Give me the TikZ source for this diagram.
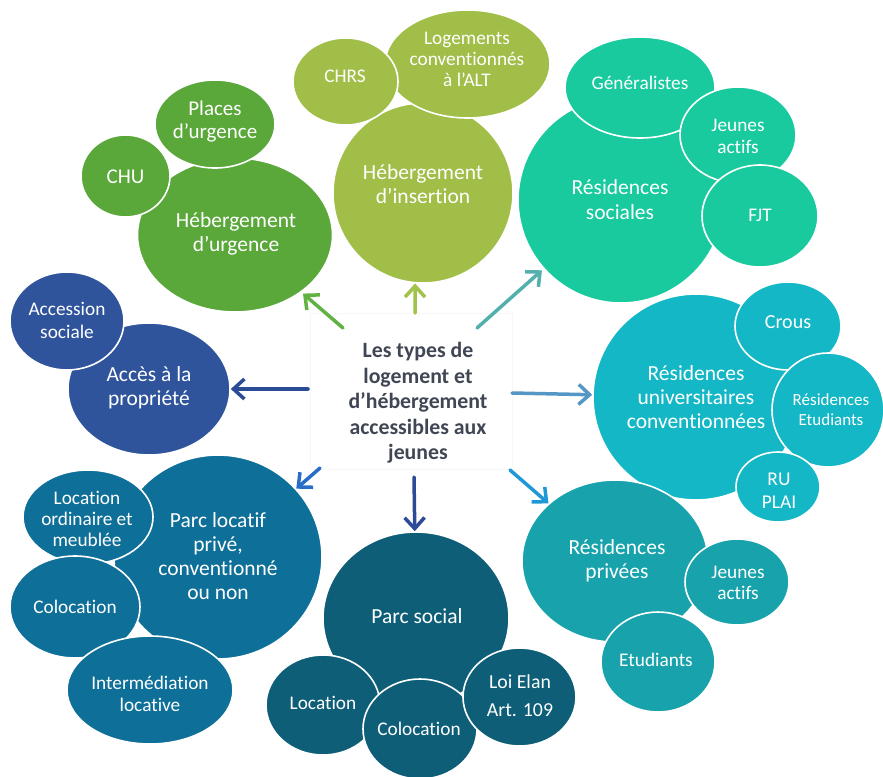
\documentclass[tikz,border=0pt]{standalone}
\usepackage{fontspec}
\setmainfont{Carlito}[Ligatures=NoCommon]
\usetikzlibrary{shapes.geometric,arrows.meta}
\definecolor{cGreen}{RGB}{90,167,58}
\definecolor{cLime}{RGB}{160,190,72}
\definecolor{cSoc}{RGB}{24,202,158}
\definecolor{cUniv}{RGB}{20,183,197}
\definecolor{cPriv}{RGB}{24,163,172}
\definecolor{cPS}{RGB}{14,94,120}
\definecolor{cPL}{RGB}{14,111,152}
\definecolor{cAcc}{RGB}{47,84,156}
\definecolor{aGreen}{RGB}{96,178,66}
\definecolor{aLime}{RGB}{160,195,75}
\definecolor{aSoc}{RGB}{83,176,175}
\definecolor{aUniv}{RGB}{84,150,196}
\definecolor{aPriv}{RGB}{30,152,214}
\definecolor{aDark}{RGB}{44,75,150}
\definecolor{aPL}{RGB}{40,110,200}
\definecolor{cText}{RGB}{64,70,84}
\tikzset{
  bub/.style={ellipse, draw=white, line width=1.6pt, inner sep=0pt},
  lab/.style={text=white, align=center, inner sep=0pt, font=\fontsize{21.5}{24}\selectfont},
  slab/.style={text=white, align=center, inner sep=0pt, font=\fontsize{19.3}{22}\selectfont},
  arr/.style={line width=3.5pt, line cap=round, line join=round, -{Straight Barb[length=11pt,width=20pt]}},
}
\begin{document}
\begin{tikzpicture}[x=1pt,y=-1pt]
\useasboundingbox (0,0) rectangle (883,776);
% faint central box
\draw[draw=black!3, line width=0.8pt] (310,313) rectangle (512,469);
% --- Hebergement d'urgence
\node[bub, fill=cGreen, minimum width=195pt, minimum height=154pt] (hu) at (235,235) {};
\node[bub, fill=cGreen, minimum width=89pt, minimum height=82pt] (chu) at (125.5,176) {};
\node[bub, fill=cGreen, minimum width=120pt, minimum height=88pt] (pu) at (215,124) {};
\node[lab] (thu) at (236,234) {Hébergement\\d’urgence};
\node[lab, font=\fontsize{21}{23}\selectfont] (tchu) at (125.5,177) {CHU};
\node[lab, font=\fontsize{21}{23}\selectfont] (tpu) at (215,121.5) {Places\\d’urgence};
% --- Hebergement d'insertion
\node[bub, fill=cLime, minimum width=180pt, minimum height=180pt] (hi) at (423,193) {};
\node[bub, fill=cLime, minimum width=165pt, minimum height=108pt] (alt) at (467.5,64) {};
\node[bub, fill=cLime, minimum width=105pt, minimum height=87pt] (chrs) at (345.5,81.5) {};
\node[lab] (thi) at (423,184) {Hébergement\\d’insertion};
\node[slab, font=\fontsize{19.3}{21}\selectfont] (talt) at (467,59) {Logements\\conventionnés\\à l’ALT};
\node[slab] (tchrs) at (345,76.5) {CHRS};
% --- Residences sociales
\node[bub, fill=cSoc, minimum width=206pt, minimum height=206pt] (rs) at (621,200) {};
\node[bub, fill=cSoc, minimum width=150pt, minimum height=101pt] (gen) at (640,87.5) {};
\node[bub, fill=cSoc, minimum width=116pt, minimum height=96pt] (ja1) at (738,135) {};
\node[bub, fill=cSoc, minimum width=116pt, minimum height=102pt] (fjt) at (760,216) {};
\node[lab, font=\fontsize{21.5}{25}\selectfont] (trs) at (620,200) {Résidences\\sociales};
\node[slab] (tgen) at (640,83) {Généralistes};
\node[slab] (tja1) at (738,136) {Jeunes\\actifs};
\node[slab] (tfjt) at (760,215) {FJT};
% --- Residences universitaires
\node[bub, fill=cUniv, minimum width=206pt, minimum height=206pt] (ru) at (696,397) {};
\node[bub, fill=cUniv, minimum width=106pt, minimum height=88pt] (crous) at (788,326) {};
\node[bub, fill=cUniv, minimum width=112pt, minimum height=114pt] (re) at (828,410) {};
\node[bub, fill=cUniv, minimum width=84pt, minimum height=70pt] (plai) at (778,487) {};
\node[lab] (tru) at (696,397) {Résidences\\universitaires\\conventionnées};
\node[slab, font=\fontsize{20}{22}\selectfont] (tcrous) at (788,322) {Crous};
\node[slab, font=\fontsize{17}{20}\selectfont] (tre) at (831,410) {Résidences\\Etudiants};
\node[slab, font=\fontsize{19.5}{23}\selectfont] (tplai) at (779,491) {RU\\PLAI};
% --- Residences privees
\node[bub, fill=cPriv, minimum width=186pt, minimum height=162pt] (rp) at (615,561) {};
\node[bub, fill=cPriv, minimum width=104pt, minimum height=86pt] (ja2) at (737,582) {};
\node[bub, fill=cPriv, minimum width=114pt, minimum height=100pt] (etu) at (658,662) {};
\node[lab] (trp) at (617,561) {Résidences\\privées};
\node[slab, font=\fontsize{19.3}{21}\selectfont] (tja2) at (738,583) {Jeunes\\actifs};
\node[slab] (tetu) at (656,660) {Etudiants};
% --- Parc social
\node[bub, fill=cPS, minimum width=186pt, minimum height=172pt] (ps) at (416,618) {};
\node[bub, fill=cPS, minimum width=114pt, minimum height=100pt] (loc) at (323,705) {};
\node[bub, fill=cPS, minimum width=114pt, minimum height=100pt] (coloc) at (420,729) {};
\node[bub, fill=cPS, minimum width=113pt, minimum height=98pt] (elan) at (519.5,697) {};
\node[lab] (tps) at (417,616) {Parc social};
\node[slab] (tloc) at (323,703) {Location};
\node[slab] (tcoloc) at (419,729) {Colocation};
\node[slab, font=\fontsize{19.8}{28}\selectfont] (telan) at (520,696) {Loi Elan\\Art. 109};
% --- Parc locatif prive
\node[bub, fill=cPL, minimum width=208pt, minimum height=204pt] (pl) at (218,557) {};
\node[bub, fill=cPL, minimum width=130pt, minimum height=94pt] (lom) at (88,517) {};
\node[bub, fill=cPL, minimum width=130pt, minimum height=102pt] (col) at (75,607) {};
\node[bub, fill=cPL, minimum width=166pt, minimum height=108pt] (im) at (150,690) {};
\node[lab] (tpl) at (218,556) {Parc locatif\\privé,\\conventionné\\ou non};
\node[slab, font=\fontsize{19.3}{21}\selectfont] (tlom) at (87,519) {Location\\ordinaire et\\meublée};
\node[slab] (tcol) at (75,607) {Colocation};
\node[slab] (tim) at (150,694) {Intermédiation\\locative};
% --- Acces a la propriete
\node[bub, fill=cAcc, minimum width=162pt, minimum height=132pt] (ap) at (149,389) {};
\node[bub, fill=cAcc, minimum width=114pt, minimum height=98pt] (as) at (67,321) {};
\node[lab] (tap) at (149,388) {Accès à la\\propriété};
\node[slab, font=\fontsize{19.3}{23}\selectfont] (tas) at (67,320) {Accession\\sociale};
% --- centre
\node[text=cText, align=center, inner sep=0pt, font=\bfseries\fontsize{21.8}{25.5}\selectfont] (ctr) at (418,403)
  {Les types de\\logement et\\d’hébergement\\accessibles aux\\jeunes};
% --- arrows
\coordinate (s1) at (343,328);
\coordinate (s2) at (415,313);
\coordinate (s3) at (477,328);
\coordinate (s4) at (512,393);
\coordinate (s5) at (510,470);
\coordinate (s6) at (414,477);
\coordinate (s7) at (320,468);
\coordinate (s8) at (308,389);
\draw[arr, aGreen, shorten >=2pt] (s1) -- (hu);
\draw[arr, aLime] (s2) -- (hi.265);
\draw[arr, aSoc, shorten >=2pt] (s3) -- (rs);
\draw[arr, aUniv] (s4) -- (ru);
\draw[arr, aPriv] (s5) -- (rp);
\draw[arr, aDark] (s6) -- (ps);
\draw[arr, aPL] (s7) -- (pl);
\draw[arr, aDark] (s8) -- (ap);
\end{tikzpicture}
\end{document}
